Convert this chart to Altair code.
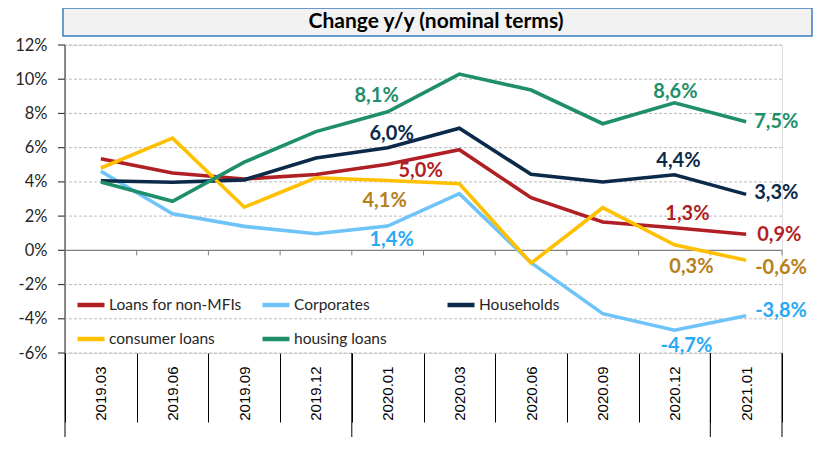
import altair as alt
import pandas as pd

# ---------------- data ----------------
categories = ["2019.03", "2019.06", "2019.09", "2019.12", "2020.01",
              "2020.03", "2020.06", "2020.09", "2020.12", "2021.01"]
series_names = ["Loans for non-MFIs", "Corporates", "Households",
                "consumer loans", "housing loans"]

loans_non_mfi = [5.35, 4.52, 4.17, 4.43, 5.03, 5.88, 3.08, 1.66, 1.32, 0.94]
corporates = [4.62, 2.14, 1.40, 0.97, 1.42, 3.31, -0.72, -3.70, -4.67, -3.82]
households = [4.07, 3.98, 4.12, 5.40, 6.00, 7.14, 4.44, 3.99, 4.42, 3.27]
consumer_loans = [4.81, 6.56, 2.52, 4.24, 4.08, 3.89, -0.75, 2.49, 0.32, -0.58]
housing_loans = [4.00, 2.87, 5.15, 6.94, 8.10, 10.30, 9.37, 7.40, 8.62, 7.52]

y_ticks = [-6, -4, -2, 0, 2, 4, 6, 8, 10, 12]
grid_values = [-6, -4, -2, 2, 4, 6, 8, 10, 12]
title_text = "Change y/y (nominal terms)"

line_colors = ["#B01F24", "#6EC4F8", "#0B2A4A", "#FFC000", "#1E8F6A"]
label_colors = {"Loans for non-MFIs": "#B01F24", "Corporates": "#2AA9F4",
                "Households": "#0B2A4A", "consumer loans": "#B8801A",
                "housing loans": "#1E8F6A"}

# labelled points: (series, period) -> (dx, dy, align)
label_placement = {
    ("housing loans", "2020.01"): (-11, -16, "center"),
    ("Households", "2020.01"): (4, -14, "center"),
    ("Loans for non-MFIs", "2020.01"): (33, 7, "center"),
    ("consumer loans", "2020.01"): (-3, 20, "center"),
    ("Corporates", "2020.01"): (4, 14, "center"),
    ("housing loans", "2020.12"): (1, -11, "center"),
    ("Households", "2020.12"): (4, -14, "center"),
    ("Loans for non-MFIs", "2020.12"): (13, -14, "center"),
    ("consumer loans", "2020.12"): (17, 22, "center"),
    ("Corporates", "2020.12"): (12, 16, "center"),
    ("housing loans", "2021.01"): (8, 0, "left"),
    ("Households", "2021.01"): (8, -1, "left"),
    ("Loans for non-MFIs", "2021.01"): (11, 1, "left"),
    ("consumer loans", "2021.01"): (9, 8, "left"),
    ("Corporates", "2021.01"): (9, -5, "left"),
}

# ---------------- tables ----------------
rows = []
for name, vals in zip(series_names, [loans_non_mfi, corporates, households,
                                     consumer_loans, housing_loans]):
    for c, v in zip(categories, vals):
        rows.append({"series": name, "period": c, "value": v,
                     "label": f"{v:.1f}".replace(".", ",") + "%"})
df = pd.DataFrame(rows)
cat_df = pd.DataFrame({"period": categories})
tick_df = pd.DataFrame({"tick": y_ticks})
grid_df = pd.DataFrame({"gridv": grid_values})

FONT = "Lato"
W, H = 717, 308

x_scale = alt.Scale(type="band", domain=categories, paddingInner=0, paddingOuter=0)
y_scale = alt.Scale(domain=[-6, 12], nice=False, zero=False)
color_scale = alt.Scale(domain=series_names, range=line_colors)

x_axis = alt.Axis(title=None, orient="bottom", tickBand="extent", tickSize=69,
                  tickColor="#000000", tickWidth=1, domain=False, grid=False,
                  labelAngle=270, labelAlign="right", labelBaseline="middle",
                  labelPadding=-56, labelFont="Liberation Sans", labelFontSize=15,
                  labelColor="#000000", labelOverlap=False, labelFlush=False)
y_axis = alt.Axis(title=None, values=y_ticks, labelExpr="datum.value + '%'",
                  ticks=False, domain=False, labelFont=FONT, labelFontSize=16.5,
                  labelColor="#262626", labelPadding=18, labelOverlap=False,
                  labelFlush=False, grid=False)
legend = alt.Legend(title=None, orient="none", legendX=10, legendY=244,
                    direction="horizontal", columns=3, gridAlign="all",
                    symbolType="stroke", symbolSize=729, symbolStrokeWidth=4.5,
                    labelFont=FONT, labelFontSize=15.5, labelColor="#262626",
                    labelOffset=2, columnPadding=11, rowPadding=9, padding=0,
                    labelLimit=300)


def X(bp=0.5):
    return alt.X("period:N", scale=x_scale, axis=x_axis, sort=categories,
                 bandPosition=bp)


def YD(v):
    return alt.YDatum(v, scale=y_scale, axis=y_axis)


Y = alt.Y("value:Q", scale=y_scale, axis=y_axis)
YT = alt.Y("tick:Q", scale=y_scale, axis=y_axis)
YG = alt.Y("gridv:Q", scale=y_scale, axis=y_axis)

layers = []

# y axis line
layers.append(alt.Chart(cat_df.head(1)).mark_rule(color="#404040", strokeWidth=1.2)
              .encode(x=alt.value(0), y=YD(12), y2=alt.datum(-6)))

# light horizontal gridlines (spanning the whole plot width)
layers.append(alt.Chart(grid_df).mark_rule(color="#bcbcbc", strokeWidth=1,
                                           strokeDash=[3, 2])
              .encode(y=YG))

# outer y ticks
layers.append(alt.Chart(tick_df).mark_rule(color="#404040", strokeWidth=1.2)
              .encode(x=alt.value(-7), x2=alt.value(0), y=YT))

# zero line and its small ticks
layers.append(alt.Chart(cat_df.head(1)).mark_rule(color="#808080", strokeWidth=1.4)
              .encode(y=YD(0)))
layers.append(alt.Chart(cat_df).mark_rule(color="#808080", strokeWidth=1)
              .encode(x=X(0), y=YD(0), y2=alt.datum(-0.3)))
layers.append(alt.Chart(cat_df.tail(1)).mark_rule(color="#808080", strokeWidth=1)
              .encode(x=X(1), y=YD(0), y2=alt.datum(-0.3)))

# long group separators below the plot
group_starts = pd.DataFrame({"period": ["2019.03", "2020.01", "2021.01"]})
layers.append(alt.Chart(group_starts).mark_rule(color="#000000", strokeWidth=1)
              .encode(x=X(0), y=YD(-6), y2=alt.value(420)))
layers.append(alt.Chart(cat_df.tail(1)).mark_rule(color="#000000", strokeWidth=1)
              .encode(x=X(1), y=YD(-6), y2=alt.value(420)))

# series lines (drawn in series order)
for name in series_names:
    layers.append(
        alt.Chart(df).transform_filter(alt.datum.series == name)
        .mark_line(strokeWidth=3.6)
        .encode(x=X(), y=Y,
                color=alt.Color("series:N", scale=color_scale, legend=legend),
                order=alt.Order("period:N"))
    )

# data labels
for (name, per), (dx, dy, align) in label_placement.items():
    layers.append(
        alt.Chart(df).transform_filter((alt.datum.series == name) & (alt.datum.period == per))
        .mark_text(font=FONT, fontSize=20, fontWeight="bold", dx=dx, dy=dy,
                   align=align, baseline="middle", color=label_colors[name])
        .encode(x=X(), y=Y, text="label:N")
    )

# title box
title_df = pd.DataFrame({"t": [title_text]})
layers.append(alt.Chart(title_df).mark_rect(fill="#F2F2F2", stroke="#3C7DC4", strokeWidth=1.5)
              .encode(x=alt.value(-2), x2=alt.value(747), y=alt.value(-37), y2=alt.value(-9)))
layers.append(alt.Chart(title_df).mark_text(font=FONT, fontSize=21, fontWeight="bold",
                                            color="#000000", align="center", baseline="middle")
              .encode(text="t:N", x=alt.value(371), y=alt.value(-23)))

chart = alt.layer(*layers).properties(
    width=W, height=H,
    padding={"left": 57, "top": 37, "right": 31, "bottom": 84},
    autosize=alt.AutoSizeParams(type="none"),
).configure_view(stroke=None).configure(font=FONT).configure_axisY(
    labelOverlap=False, labelFlush=False, labelFontSize=16.5, labelFont=FONT,
    labelPadding=18, domain=False, ticks=False, grid=False)

chart.save("out.html", embed_options={"renderer": "svg", "actions": False})
